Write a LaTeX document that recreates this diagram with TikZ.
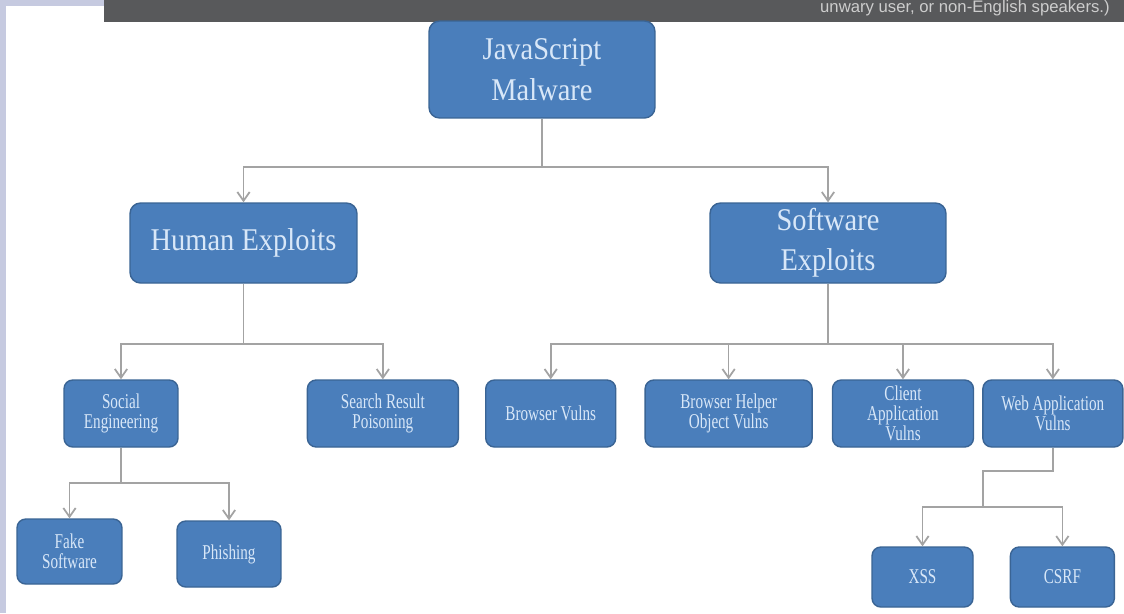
\documentclass[tikz,border=0pt]{standalone}
\usepackage{fontspec}
\setmainfont{Liberation Serif}
\setsansfont{Liberation Sans}
\newfontfamily\bigfont{Liberation Serif}[FakeStretch=0.9]
\newfontfamily\smallfont{Liberation Serif}[FakeStretch=0.72]
\usetikzlibrary{positioning,arrows.meta}

\definecolor{boxblue}{HTML}{4A7EBB}
\definecolor{boxedge}{HTML}{3A6494}
\definecolor{boxtext}{HTML}{D8E7F8}
\definecolor{linkgray}{HTML}{A3A3A3}
\definecolor{barcolor}{HTML}{58595B}
\definecolor{bartext}{HTML}{CDCDCD}
\definecolor{lavender}{HTML}{C6CAE0}

\begin{document}
\begin{tikzpicture}
            [
            x=0.02cm, y=-0.02cm,
            box/.style={rectangle, rounded corners=5pt, draw=boxedge, line width=0.8pt,
                fill=boxblue, text=boxtext, align=center, inner sep=1pt},
            big box/.style={box, rounded corners=6pt,
                font=\bigfont\fontsize{18}{23}\selectfont, minimum height=1.6cm},
            small box/.style={box, font=\smallfont\fontsize{12}{11.5}\selectfont,
                minimum height=1.34cm},
            link/.style={draw=linkgray, line width=1pt},
            >={Straight Barb[length=5pt,width=7pt]}
            ]
            % slide background
            \useasboundingbox (0,0) rectangle (1124,613);
            \fill [white] (0,0) rectangle (1124,613);
            \fill [lavender] (0,0) rectangle (6,613);
            \fill [lavender] (0,0) rectangle (1124,6);
            \fill [barcolor] (104,0) rectangle (1124,22);
            \node (note) [anchor=base east, inner sep=0pt, text=bartext,
                font=\sffamily\fontsize{9.5}{10}\selectfont] at (1110,12)
                {unwary user, or non-English speakers.)};

            \node (mal) [big box, minimum width=4.52cm, minimum height=1.94cm] at (542,69.5) {JavaScript\\Malware};
            \node (hum) [big box, minimum width=4.54cm] at (243.5,243) {Human Exploits};
            \node (sw) [big box, minimum width=4.72cm] at (828,243) {Software\\Exploits};

            % third row
            \node (soc) [small box, minimum width=2.28cm] at (121,413.5) {Social\\Engineering};
            \node (srp) [right=2.56cm of soc, small box, minimum width=3.02cm] {Search Result\\Poisoning};
            \node (bv) [right=0.52cm of srp, small box, minimum width=2.6cm] {Browser Vulns};
            \node (bho) [right=0.56cm of bv, small box, minimum width=3.34cm] {Browser Helper\\Object Vulns};
            \node (cav) [right=0.38cm of bho, small box, minimum width=2.82cm] {Client\\Application\\Vulns};
            \node (wav) [right=0.16cm of cav, small box, minimum width=2.8cm] {Web Application\\Vulns};

            % leaves
            \node (fake) [small box, minimum width=2.1cm, minimum height=1.3cm] at (69.5,551.5) {Fake\\Software};
            \node (phi) [small box, minimum width=2.08cm, minimum height=1.32cm] at (229,554) {Phishing};
            \node (xss) [small box, minimum width=2.02cm, minimum height=1.2cm] at (922.5,577) {XSS};
            \node (csrf) [right=0.72cm of xss, small box, minimum width=2.08cm, minimum height=1.2cm] {CSRF};

            \coordinate (top bus) at (542,167);
            \coordinate (human bus) at (243.5,344);
            \coordinate (soft bus) at (828,344);
            \coordinate (social bus) at (121,483);
            \coordinate (web bend) at (983,471);
            \coordinate (web bus) at (983,507);

            \draw [link] (mal.south) -- (top bus);
            \foreach \c in {hum,sw}
            \draw [link, ->] (top bus) -| (\c.north);

            \draw [link] (hum.south) -- (human bus);
            \foreach \c in {soc,srp}
            \draw [link, ->] (human bus) -| (\c.north);

            \draw [link] (sw.south) -- (soft bus);
            \foreach \c in {bv,bho,cav,wav}
            \draw [link, ->] (soft bus) -| (\c.north);

            \draw [link] (soc.south) -- (social bus);
            \foreach \c in {fake,phi}
            \draw [link, ->] (social bus) -| (\c.north);

            \draw [link] (wav.south) |- (web bend) -- (web bus);
            \foreach \c in {xss,csrf}
            \draw [link, ->] (web bus) -| (\c.north);
        \end{tikzpicture}
\end{document}
